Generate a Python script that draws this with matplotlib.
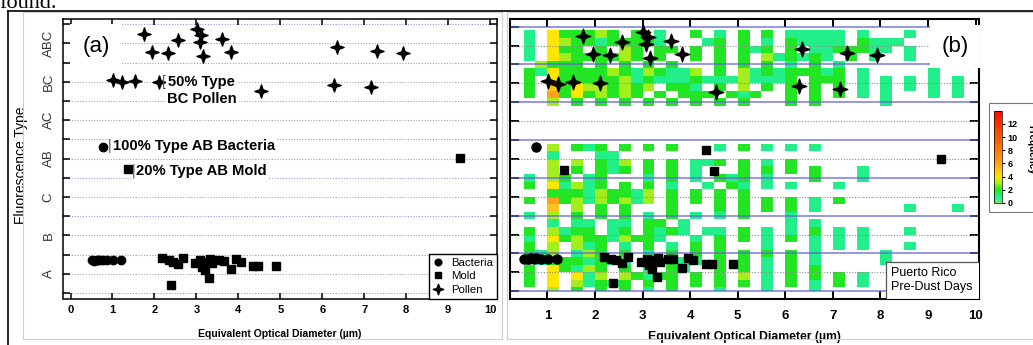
import numpy as np
import matplotlib.pyplot as plt
from matplotlib.colors import LinearSegmentedColormap, Normalize
from matplotlib.path import Path
from matplotlib.patches import Rectangle
from matplotlib.lines import Line2D

plt.rcParams['font.family'] = ['Liberation Sans', 'DejaVu Sans']

W, H = 1033, 345   # figure size in pixels

types = ['A', 'B', 'C', 'AB', 'AC', 'BC', 'ABC']

# single particles (diameter in um, type position: integer part = type index)
bact_x = [0.52, 0.57, 0.62, 0.66, 0.71, 0.77, 0.86, 1.02, 1.20, 0.77]
bact_y = [0.86, 0.84, 0.86, 0.87, 0.86, 0.87, 0.86, 0.86, 0.86, 3.81]

mold_x = [2.19, 2.34, 2.45, 2.56, 2.69, 2.39, 2.97, 3.09, 3.13, 3.20, 3.25, 3.33, 3.31,
          3.37, 3.53, 3.65, 3.83, 3.95, 4.07, 4.34, 4.46, 4.90, 1.36, 4.33, 4.51, 9.28]
mold_y = [0.90, 0.86, 0.82, 0.75, 0.90, 0.21, 0.77, 0.86, 0.69, 0.60, 0.82, 0.88, 0.38,
          0.77, 0.86, 0.84, 0.62, 0.88, 0.82, 0.71, 0.71, 0.71, 3.22, 3.73, 3.18, 3.51]

pollen_x = [1.75, 1.95, 2.32, 2.56, 3.01, 3.12, 3.08, 3.16, 3.60, 3.83, 6.35, 7.30, 7.92,
            1.02, 1.23, 1.54, 2.10, 4.54, 6.28, 7.16]
pollen_y = [6.74, 6.28, 6.24, 6.59, 6.87, 6.72, 6.54, 6.17, 6.61, 6.28, 6.40, 6.30, 6.24,
            5.55, 5.49, 5.53, 5.50, 5.26, 5.42, 5.36]

# frequency map of all particles, 0.25 um columns from 0.5 to 10 um,
# five 0.2 rows per type (written top row first), '.' = no particles
freq_ABC = ["1.422232.2" ".1..2.1.2." "2.11111.1." "..1.....",
            "1.43221222" "21...12.2." "1.21111.21" "11......",
            "1.422.2.32" ".22.2.2.21" "2.2.112221" "1.1.....",
            "1.43222232" ".2..2.2.2." "312121.2.1" "..1.....",
            ".3222.2.2." "2.2...2.2." "2.1.2.1..." "........"]
freq_BC = ["2142222321" "32113.2.31" "2122212.1." "....1...",
           "2.42222231" "2111211131" "112.222.1." "1.1.1.1.",
           "2.52433232" "3.221.2.3." "2.2.2.2.1." "1.1.1.1.",
           "2.62423232" ".2.222.212" "..2.2.2.1." "1...1.1.",
           "..3.2.2.2." "2.2.2.2.2." "..2.2....." "1......."]
freq_AC = ["." * 38] * 5
freq_AB = ["..3.212.2." "2.2...1.2." "1.1.1....." "........",
           "..1...11.." ".........." ".........." "........",
           "..3.3.213." "2.2.112.2." "1.2......." "........",
           "..3.2.212." "2.2.1...2." "2.2.2...1." "........",
           "1.32.12..." "1.2.1.212." "1...2...1." "........"]
freq_C = ["2.41312.2." "2.1..1.21." "1.1...1..." "........",
          "..22213221" "3.2.2.2.2." ".........." "........",
          "2.62313231" "3.2.2.2.2." "2.2.1.2..." "........",
          "..5.3.2.2." "..2...2.2." "2.2.1....." "..1...1.",
          "1.3.2.2.2." "1.2.1.1.2." "..1......." "........"]
freq_B = ["..1.11.11." "22.1......" "..1.1....." "........",
          "2.3122.12." "2121.11.2." "1.1.2.1.1." "..1.....",
          "1.42322132" "21..1.2.2." "1.2.1.1.1." "........",
          "2.3.312.1." "2.1.2.2..." "1...1.1.1." "..1.....",
          "213.132.2." "1.2.2.2.2." "2.2.1....." "1......."]
freq_A = [".12221211." "2.211.2.2." "1.2.1....." "1.......",
          "2.42132.2." "1.21..2.2." "1.2.2....." "........",
          "2.4.413.32" "122.2.2.3." "1.2.2.2.1." "........",
          "2.4.31212." "2.2.2.2.2." "1.2.1.2.1." "........",
          "..3.2.2.2." "1.2...1..." "1...1....." "........"]

freq_blocks = [freq_A, freq_B, freq_C, freq_AB, freq_AC, freq_BC, freq_ABC]
rows = []
for block in freq_blocks:
    for r in reversed(block):
        r = r.ljust(38, '.')[:38]
        rows.append([0 if c == '.' else int(c) for c in r])
freq = np.ma.masked_equal(np.array(rows, dtype=float), 0)
x_edges = 0.5 + 0.25 * np.arange(39)
y_edges = -0.1 + 0.2 * np.arange(36)
y_edges[0] = 0.0   # lowest row stops at the axis floor line

cmap = LinearSegmentedColormap.from_list('freq', [
    (0.0, '#7ee85a'), (0.6/14, '#2af08e'), (1/14, '#22ef8a'), (2/14, '#22e622'),
    (3/14, '#a8ee1c'), (4/14, '#ffe600'), (5/14, '#ffc21a'), (6/14, '#ffa01e'),
    (9/14, '#ff6a00'), (1.0, '#ff0a00')])
norm = Normalize(0, 14)

star = Path.unit_regular_star(4, 0.36)


def px_box(left, top, right, bottom):
    return [left / W, 1 - bottom / H, (right - left) / W, (bottom - top) / H]


fig = plt.figure(figsize=(W / 100, H / 100), dpi=100)

# page text and frames around the panels
fig.text(-0.001, 1 - 8 / H, 'found.', family='Liberation Serif', fontsize=16,
         va='baseline', ha='left')
fig.add_artist(Line2D([8 / W, 1], [1 - 11 / H] * 2, color='black', lw=1.2,
                      transform=fig.transFigure))
fig.add_artist(Line2D([8 / W] * 2, [0, 1 - 11 / H], color='black', lw=1.2,
                      transform=fig.transFigure))
for l, r in [(23, 502), (507, 1045)]:
    b = px_box(l, 12, r, 339)
    fig.add_artist(Rectangle((b[0], b[1]), b[2], b[3], fill=False, ec='#cfcfcf',
                             lw=0.8, transform=fig.transFigure))

# ---------------- (a) scatter ----------------
ax = fig.add_axes(px_box(63, 19, 496.7, 298.5))
ax.set_xlim(-0.18, 10.16)
ax.set_ylim(-0.143, 7.135)
for b in range(8):
    ax.axhline(b, color='#9a9ae4', lw=0.8, ls=(0, (1, 1.5)), zorder=1)
for c in np.arange(0.5, 7, 1):
    ax.axhline(c, color='#a4a4a4', lw=0.8, ls=(0, (1, 1.5)), zorder=1)

ax.plot(bact_x, bact_y, 'o', color='black', ms=6, zorder=3, label='Bacteria')
ax.plot(mold_x, mold_y, 's', color='black', ms=5.6, zorder=3, label='Mold')
ax.plot(pollen_x, pollen_y, marker=star, ls='none', color='black', ms=9.5, zorder=3,
        label='Pollen')

wbox = dict(boxstyle='square,pad=0.15', fc='white', ec='none')
ax.text(0.076, 0.90, '(a)', transform=ax.transAxes, fontsize=16, ha='center',
        va='center', zorder=5, bbox=dict(boxstyle='square,pad=0.55', fc='white', ec='none'))
ax.text(2.225, 5.495, '[', fontsize=10, color='#555555', ha='center', va='center', zorder=6)
ax.text(2.32, 5.495, '50% Type', fontsize=10.6, fontweight='bold', va='center', zorder=5, bbox=wbox)
ax.text(2.30, 5.04, 'BC Pollen', fontsize=10.6, fontweight='bold', va='center', zorder=5, bbox=wbox)
ax.text(0.937, 3.815, '|', fontsize=10, color='#555555', ha='center', va='center', zorder=6)
ax.text(1.01, 3.815, '100% Type AB Bacteria', fontsize=10.6, fontweight='bold', va='center',
        zorder=5, bbox=wbox)
ax.text(1.51, 3.19, '|', fontsize=10, color='#555555', ha='center', va='center', zorder=6)
ax.text(1.56, 3.18, '20% Type AB Mold', fontsize=10.6, fontweight='bold', va='center',
        zorder=5, bbox=wbox)

leg = ax.legend(loc='lower right', fontsize=8.2, frameon=True, fancybox=False, framealpha=1,
                edgecolor='black', borderaxespad=0, borderpad=0.35, handlelength=1.0,
                handletextpad=0.6, labelspacing=0.28, markerscale=0.8)
leg.get_frame().set_linewidth(1.0)
leg.set_zorder(6)

ax.set_xticks(range(11))
ax.set_yticks(np.arange(0.5, 7, 1))
ax.set_yticks(range(8), minor=True)
ax.set_yticklabels(types, rotation=90, va='center', color='#333333', fontsize=9.5)
for t in ax.get_xticklabels():
    t.set_fontweight('bold')
ax.tick_params(axis='x', which='both', direction='in', top=True, length=4, width=1.1,
               labelsize=8, pad=5)
ax.tick_params(axis='y', which='both', direction='in', right=True, length=5, width=1.1, pad=6)
for s in ax.spines.values():
    s.set_linewidth(1.1)
ax.set_xlabel('Equivalent Optical Diameter (\u00b5m)', fontsize=7.5, fontweight='bold')
ax.xaxis.set_label_coords(0.5, -0.109)
ax.set_ylabel('Fluorescence Type', fontsize=10)
ax.yaxis.set_label_coords(-0.081, 0.478)

# ---------------- (b) frequency map ----------------
bx = fig.add_axes(px_box(510, 19, 979, 298.5))
bx.set_xlim(0.216, 10.07)
bx.set_ylim(-0.193, 7.203)
mesh = bx.pcolormesh(x_edges, y_edges, freq, cmap=cmap, norm=norm, zorder=1)
for b in range(8):
    bx.axhline(b, color='#6363d4', lw=1.1, alpha=0.85, zorder=2)
for c in np.arange(0.5, 7, 1):
    bx.axhline(c, color='#8c8c8c', lw=0.8, ls=(0, (1, 1.5)), zorder=2)

bx.plot(bact_x, bact_y, 'o', color='black', ms=6.5, zorder=3)
bx.plot(mold_x, mold_y, 's', color='black', ms=6.2, zorder=3)
bx.plot(pollen_x, pollen_y, marker=star, ls='none', color='black', ms=10.5, zorder=3)

bx.text(0.949, 0.903, '(b)', transform=bx.transAxes, fontsize=16, ha='center', va='center',
        zorder=5, bbox=dict(boxstyle='square,pad=0.5', fc='white', ec='none'))
bx.add_patch(Rectangle((0.8017, 0), 0.25, 0.129, transform=bx.transAxes, fc='white',
                       ec='#555555', lw=0.9, zorder=5))
bx.text(0.812, 0.066, 'Puerto Rico\nPre-Dust Days', transform=bx.transAxes, fontsize=9,
        ha='left', va='center', linespacing=1.25, zorder=6)

bx.set_xticks(range(1, 11))
bx.set_yticks(np.arange(0, 7.01, 0.5))
for t in bx.get_xticklabels():
    t.set_fontweight('bold')
bx.tick_params(axis='x', direction='in', top=True, length=5.5, width=1.4, labelsize=9.5, pad=8)
bx.tick_params(axis='y', direction='in', right=True, length=6.5, width=1.4, labelleft=False)
for s in bx.spines.values():
    s.set_linewidth(1.5)
bx.set_xlabel('Equivalent Optical Diameter (\u00b5m)', fontsize=8.8, fontweight='bold')
bx.xaxis.set_label_coords(0.5, -0.117)

# colour scale
b = px_box(989, 103, 1045, 212)
fig.add_artist(Rectangle((b[0], b[1]), b[2], b[3], fill=False, ec='#777777', lw=0.8,
                         transform=fig.transFigure))
cax = fig.add_axes(px_box(994, 110.7, 1002, 203))
cb = fig.colorbar(mesh, cax=cax, ticks=range(0, 13, 2))
cb.outline.set_linewidth(0.5)
cax.tick_params(labelsize=6.5, length=2.5, width=0.8, pad=1.5)
for t in cax.get_yticklabels():
    t.set_fontweight('bold')
fig.text(1031 / W, 1 - 150 / H, 'Frequency', rotation=270, fontsize=7, fontweight='bold',
         ha='center', va='center')

fig.savefig('out.png', dpi=100)
